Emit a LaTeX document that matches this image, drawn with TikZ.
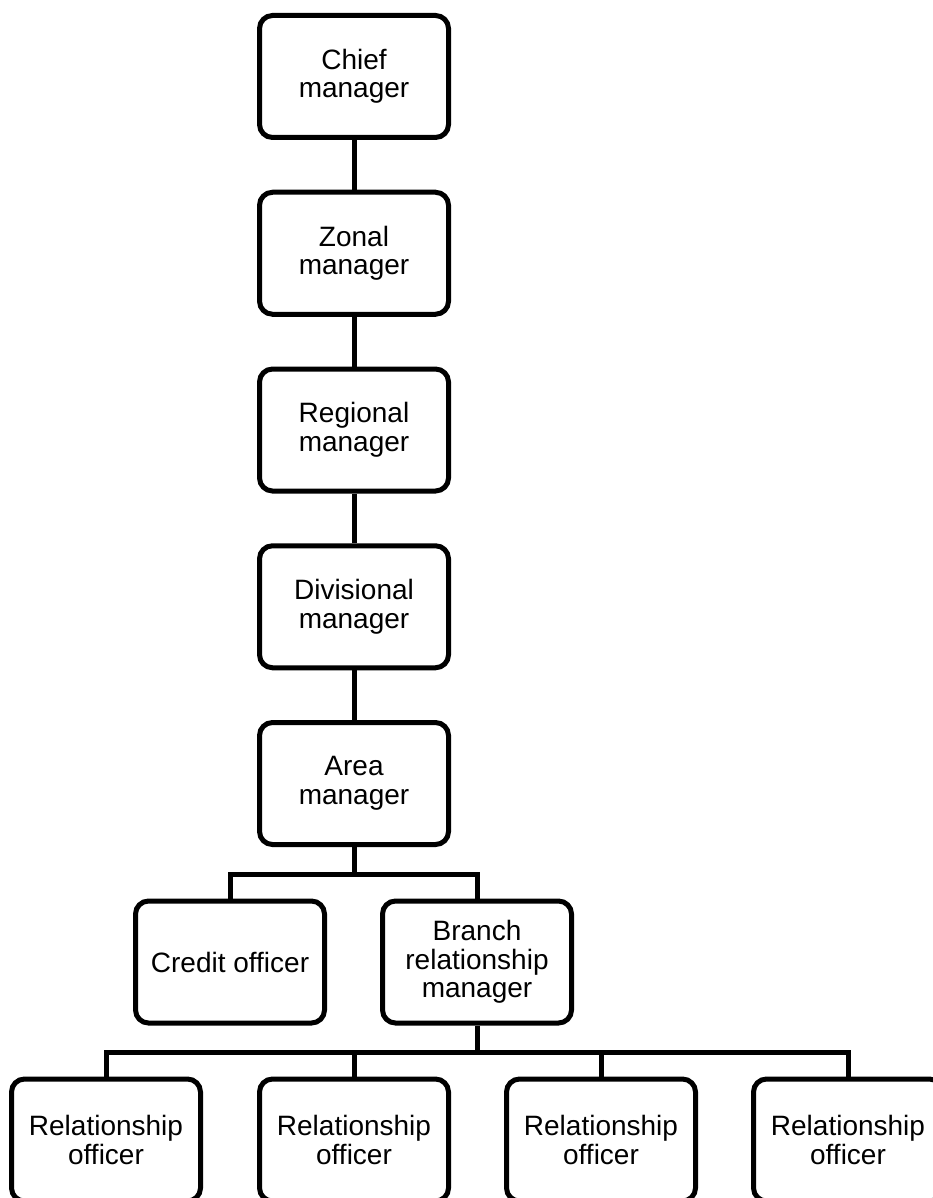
\documentclass[tikz,border=0pt]{standalone}
\usepackage{fontspec}
\setmainfont{Liberation Sans}
\begin{document}
\begin{tikzpicture}[x=1pt,y=-1pt,
  box/.style={draw, line width=5pt, rounded corners=13pt, minimum width=189pt,
    minimum height=122pt, align=center, inner sep=2pt,
    font=\fontsize{28}{28.5}\selectfont},
  link/.style={line width=5pt}]
\useasboundingbox (0,0) rectangle (933,1198);
\clip (0,0) rectangle (933,1198);
% management chain
\node[box] (chief) at (354,76.5) {Chief\\manager};
\node[box] (zonal) at (354,253.25) {Zonal\\manager};
\node[box] (regional) at (354,430) {Regional\\manager};
\node[box] (divisional) at (354,606.75) {Divisional\\manager};
\node[box] (area) at (354,783.5) {Area\\manager};
% second tier
\node[box] (credit) at (230,962) {Credit officer};
\node[box] (branch) at (477,962) {Branch\\relationship\\manager};
% officers
\node[box] (ro1) at (106,1140) {Relationship\\officer};
\node[box] (ro2) at (354,1140) {Relationship\\officer};
\node[box] (ro3) at (601,1140) {Relationship\\officer};
\node[box] (ro4) at (848,1140) {Relationship\\officer};
% bus levels
\coordinate (busA) at (0,874);
\coordinate (busB) at (0,1052);
% connectors
\draw[link] (chief) -- (zonal);
\draw[link] (zonal) -- (regional);
\draw[link] (regional) -- (divisional);
\draw[link] (divisional) -- (area);
\draw[link] (area.south) -- (area.south |- busA);
\draw[link] (credit.north) |- (branch.north |- busA) -- (branch.north);
\draw[link] (branch.south) -- (branch.south |- busB);
\draw[link] (ro1.north) |- (ro4.north |- busB) -- (ro4.north);
\draw[link] (ro2.north) -- (ro2.north |- busB);
\draw[link] (ro3.north) -- (ro3.north |- busB);
\end{tikzpicture}
\end{document}
